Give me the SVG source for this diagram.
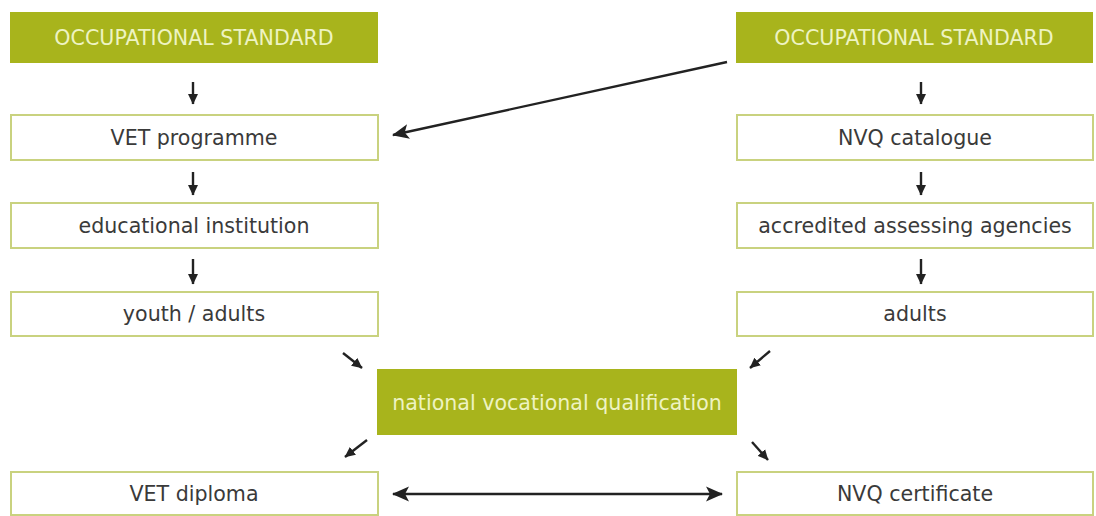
<svg xmlns="http://www.w3.org/2000/svg" width="1096" height="516" viewBox="0 0 1096 516">
<style>
.g{fill:#a8b41c;}
.w{fill:#ffffff;stroke:#c9d27f;stroke-width:2;}
.tg{font-family:"DejaVu Sans","Liberation Sans",sans-serif;font-size:20.6px;fill:#eef3c2;text-anchor:middle;dominant-baseline:central;}
.tw{font-family:"DejaVu Sans","Liberation Sans",sans-serif;font-size:20.6px;fill:#3a3a3a;text-anchor:middle;dominant-baseline:central;}
.c{stroke:#222;fill:none;stroke-width:2.4;}
</style>
<defs>
<marker id="ah" markerUnits="userSpaceOnUse" markerWidth="18" markerHeight="18" viewBox="0 0 18 18" refX="16" refY="9" orient="auto-start-reverse">
<path d="M0,1.5 L17,9 L0,16.5 L4,9 Z" fill="#222"/>
</marker>
<marker id="sh" markerUnits="userSpaceOnUse" markerWidth="11" markerHeight="11" viewBox="0 0 11 11" refX="10" refY="5.5" orient="auto">
<path d="M0,0.5 L10.5,5.5 L0,10.5 Z" fill="#222"/>
</marker>
</defs>
<g id="os-left"><rect class="g" x="10" y="12" width="368" height="51"/><text class="tg" x="194" y="38">OCCUPATIONAL STANDARD</text></g>
<g id="vet-programme"><rect class="w" x="11" y="115" width="367" height="45"/><text class="tw" x="194" y="138">VET programme</text></g>
<g id="educational-institution"><rect class="w" x="11" y="203" width="367" height="45"/><text class="tw" x="194" y="226">educational institution</text></g>
<g id="youth-adults"><rect class="w" x="11" y="292" width="367" height="44"/><text class="tw" x="194" y="314">youth / adults</text></g>
<g id="vet-diploma"><rect class="w" x="11" y="472" width="367" height="43"/><text class="tw" x="194" y="494">VET diploma</text></g>
<g id="os-right"><rect class="g" x="736" y="12" width="357" height="51"/><text class="tg" x="914" y="38">OCCUPATIONAL STANDARD</text></g>
<g id="nvq-catalogue"><rect class="w" x="737" y="115" width="356" height="45"/><text class="tw" x="915" y="138">NVQ catalogue</text></g>
<g id="accredited"><rect class="w" x="737" y="203" width="356" height="45"/><text class="tw" x="915" y="226">accredited assessing agencies</text></g>
<g id="adults"><rect class="w" x="737" y="292" width="356" height="44"/><text class="tw" x="915" y="314">adults</text></g>
<g id="nvq-certificate"><rect class="w" x="737" y="472" width="356" height="43"/><text class="tw" x="915" y="494">NVQ certificate</text></g>
<g id="nvq"><rect class="g" x="377" y="369" width="360" height="66"/><text class="tg" x="557" y="403">national vocational qualification</text></g>
<g id="connectors">
<line class="c" x1="193" y1="82" x2="193" y2="104" marker-end="url(#sh)"/>
<line class="c" x1="193" y1="172" x2="193" y2="195" marker-end="url(#sh)"/>
<line class="c" x1="193" y1="259" x2="193" y2="284" marker-end="url(#sh)"/>
<line class="c" x1="921" y1="82" x2="921" y2="104" marker-end="url(#sh)"/>
<line class="c" x1="921" y1="172" x2="921" y2="195" marker-end="url(#sh)"/>
<line class="c" x1="921" y1="259" x2="921" y2="284" marker-end="url(#sh)"/>
<line class="c" x1="727" y1="62" x2="393" y2="135" stroke-width="2.5" marker-end="url(#ah)"/>
<line class="c" x1="393" y1="494" x2="722" y2="494" stroke-width="3" marker-start="url(#ah)" marker-end="url(#ah)"/>
<line class="c" x1="343" y1="353" x2="362" y2="368" marker-end="url(#sh)"/>
<line class="c" x1="367" y1="440" x2="345" y2="457" marker-end="url(#sh)"/>
<line class="c" x1="770" y1="351" x2="750" y2="368" marker-end="url(#sh)"/>
<line class="c" x1="752" y1="442" x2="768" y2="460" marker-end="url(#sh)"/>
</g>
</svg>
